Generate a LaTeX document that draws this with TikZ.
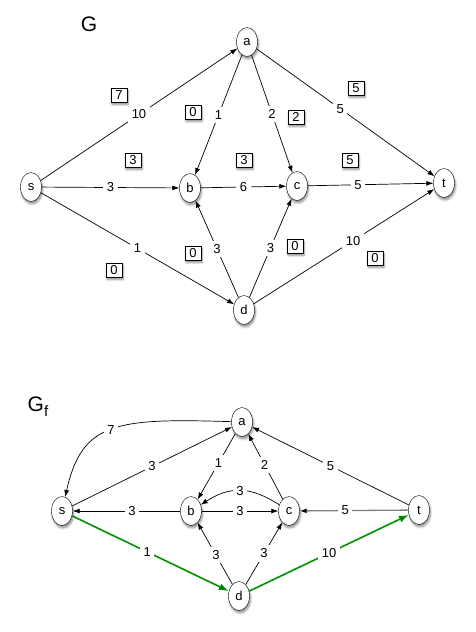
\documentclass[tikz,border=0pt]{standalone}
\usepackage{fontspec}
\setmainfont{Liberation Sans}
\usetikzlibrary{shapes.geometric}
\usetikzlibrary{arrows.meta}
\usetikzlibrary{shadows.blur}
\definecolor{flowgreen}{RGB}{0,145,0}
\tikzset{
    myshadow/.style = {blur shadow={shadow blur steps=6, shadow xshift=1pt, shadow yshift=-2.5pt, shadow opacity=45}},
    mynode/.style = {ellipse, draw=black, fill=white, minimum width=21pt, minimum height=29pt, inner sep=0pt, myshadow, font=\fontsize{13}{15}\selectfont},
    flowbox/.style = {rectangle, draw=black, fill=white, minimum width=16pt, minimum height=14pt, inner sep=0pt, myshadow, font=\fontsize{13}{15}\selectfont},
    wt/.style = {fill=white, inner sep=3.5pt, font=\fontsize{13}{15}\selectfont},
    title/.style = {font=\fontsize{21}{24}\selectfont},
    edgen/.style = {-{Latex[length=7pt,width=5pt]}, line width=0.7pt},
    edgegr/.style = {-{Latex[length=7pt,width=5pt,black]}, line width=1.3pt, draw=gray}, % t to c
    edgeg/.style = {-{Latex[length=10pt,width=7pt]}, line width=1.6pt, draw=flowgreen} % path
}

\begin{document}
\begin{tikzpicture}[x=1pt,y=-1pt]
\useasboundingbox (0,0) rectangle (476,632);
%%% G
\node[title] at (89,24) (g) {G};
\node[mynode] at (31,187) (s) {s};
\node[mynode] at (247,42) (a) {a};
\node[mynode] at (190,188) (b) {b};
\node[mynode] at (297,186) (c) {c};
\node[mynode] at (244,310) (d) {d};
\node[mynode] at (444,183) (t) {t};
%
\draw[edgen] (s) edge node[wt] {10} (a);
\draw[edgen] (a) edge node[wt] {1} (b);
\draw[edgen] (a) edge node[wt] {2} (c);
\draw[edgen] (a) edge node[wt,pos=0.47] {5} (t);
\draw[edgen] (s) edge node[wt] {3} (b);
\draw[edgen] (b) edge node[wt] {6} (c);
\draw[edgen] (c) edge node[wt,pos=0.4] {5} (t);
\draw[edgen] (s) edge node[wt] {1} (d);
\draw[edgen] (d) edge node[wt] {3} (b);
\draw[edgen] (d) edge node[wt] {3} (c);
\draw[edgen] (d) edge node[wt,pos=0.55] {10} (t);
% flows
\node[flowbox] at (119,95) (fsa) {7};
\node[flowbox] at (193,112) (fab) {0};
\node[flowbox] at (296,117) (fac) {2};
\node[flowbox] at (356,88) (fat) {5};
\node[flowbox] at (133,160) (fsb) {3};
\node[flowbox] at (244,160) (fbc) {3};
\node[flowbox] at (350,160) (fct) {5};
\node[flowbox] at (114,270) (fsd) {0};
\node[flowbox] at (193,253) (fdb) {0};
\node[flowbox] at (295,246) (fdc) {0};
\node[flowbox] at (375,258) (fdt) {0};

%%% G_f
\node[title] at (38,407) (gf) {G\raisebox{-0.45ex}{\fontsize{15}{17}\selectfont f}};
\node[mynode] at (62,511) (rs) {s};
\node[mynode] at (242,422) (ra) {a};
\node[mynode] at (191,511) (rb) {b};
\node[mynode] at (289,511) (rc) {c};
\node[mynode] at (239,596) (rd) {d};
\node[mynode] at (419,510) (rt) {t};
%
\draw[edgen] (ra) .. controls (115,418) and (82,422) .. node[wt] {7} (rs);
\draw[edgen] (rs) edge node[wt] {3} (ra);
\draw[edgen] (rb) edge node[wt,pos=0.45] {3} (rs);
\draw[edgen] (ra) edge node[wt,pos=0.45] {1} (rb);
\draw[edgen] (rc) edge node[wt,pos=0.53] {2} (ra);
\draw[edgen] (rc) .. controls (250,486) and (230,486) .. node[wt] {3} (rb);
\draw[edgen] (rb) edge node[wt] {3} (rc);
\draw[edgegr] (rt) edge node[wt,pos=0.58] {5} (rc);
\draw[edgen] (rt) edge node[wt] {5} (ra);
\draw[edgen] (rd) edge node[wt,pos=0.47] {3} (rb);
\draw[edgen] (rd) edge node[wt] {3} (rc);
\draw[edgeg] (rs) edge node[wt,pos=0.48] {1} (rd);
\draw[edgeg] (rd) edge node[wt] {10} (rt);
\end{tikzpicture}
\end{document}
